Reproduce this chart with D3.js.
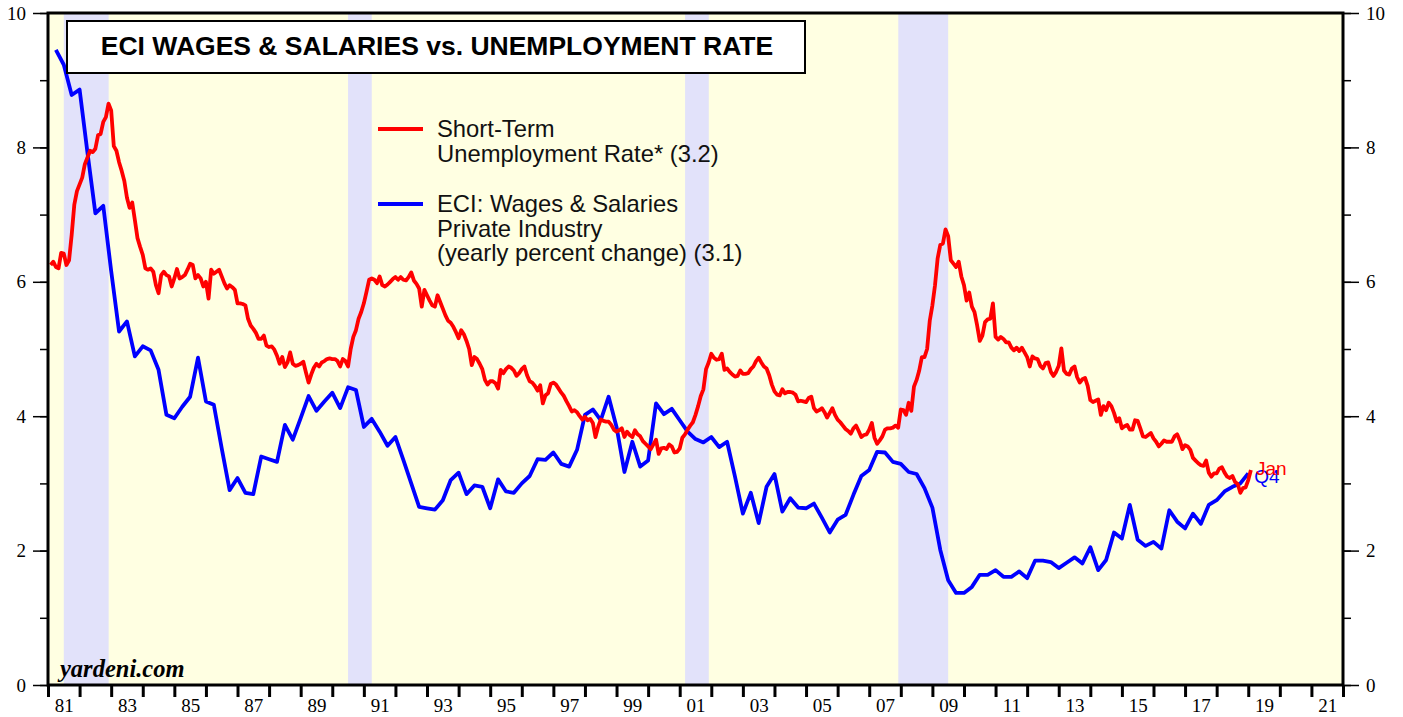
<!DOCTYPE html>
<html>
<head>
<meta charset="utf-8">
<script src="https://cdn.jsdelivr.net/npm/d3@7"></script>
<style>
  body { margin: 0; background: #fff; }
  svg { display: block; }
</style>
</head>
<body>
<div id="chart"></div>
<script>
// Short-term unemployment rate, monthly, Jan 1981 .. Jan 2019 (one row per year)
const shortTermUnemp = [
  6.25,6.30,6.22,6.20,6.43,6.42,6.25,6.32,6.70,7.15,7.35,7.45, // 81
  7.55,7.75,7.85,7.95,7.93,7.98,8.18,8.20,8.38,8.45,8.65,8.55, // 82
  8.02,7.95,7.78,7.65,7.50,7.25,7.10,7.18,6.92,6.65,6.52,6.40, // 83
  6.20,6.18,6.20,6.15,5.95,5.83,6.10,6.15,6.10,6.08,5.93,6.05, // 84
  6.19,6.05,6.07,6.10,6.18,6.27,6.25,6.05,6.10,6.05,5.93,6.00, // 85
  5.75,6.18,6.12,6.15,6.18,6.08,5.98,5.90,5.95,5.92,5.88,5.68, // 86
  5.68,5.67,5.65,5.45,5.35,5.30,5.24,5.15,5.15,5.20,5.05,5.03, // 87
  5.04,4.99,4.90,4.78,4.88,4.73,4.80,4.95,4.78,4.75,4.76,4.78, // 88
  4.81,4.65,4.50,4.62,4.72,4.78,4.74,4.80,4.82,4.85,4.86,4.85, // 89
  4.85,4.82,4.74,4.85,4.82,4.74,5.00,5.18,5.28,5.45,5.55,5.68, // 90
  5.85,6.03,6.05,6.03,5.98,6.08,5.95,5.93,5.96,6.00,6.04,6.07, // 91
  6.03,6.07,6.03,6.02,6.07,6.14,6.02,5.97,5.90,5.63,5.88,5.80, // 92
  5.72,5.65,5.63,5.80,5.70,5.60,5.50,5.42,5.39,5.33,5.25,5.16, // 93
  5.28,5.22,5.12,5.00,4.76,4.88,4.85,4.78,4.70,4.54,4.47,4.52, // 94
  4.52,4.49,4.41,4.69,4.64,4.70,4.74,4.72,4.68,4.60,4.64,4.70, // 95
  4.74,4.61,4.52,4.50,4.45,4.38,4.46,4.19,4.31,4.34,4.48,4.50, // 96
  4.47,4.41,4.35,4.30,4.22,4.15,4.07,4.09,4.06,4.00,3.95,3.99, // 97
  3.94,3.96,3.90,3.69,3.84,3.95,3.93,3.92,3.92,3.87,3.80,3.77, // 98
  3.79,3.82,3.69,3.77,3.72,3.69,3.79,3.73,3.70,3.63,3.59,3.55, // 99
  3.51,3.58,3.65,3.44,3.52,3.53,3.51,3.58,3.55,3.46,3.47,3.52, // 00
  3.68,3.73,3.80,3.86,3.91,4.02,4.15,4.30,4.40,4.70,4.80,4.93, // 01
  4.87,4.84,4.85,4.93,4.69,4.71,4.66,4.62,4.59,4.60,4.68,4.63, // 02
  4.63,4.64,4.70,4.74,4.82,4.87,4.80,4.74,4.71,4.61,4.47,4.37, // 03
  4.32,4.31,4.40,4.34,4.36,4.36,4.35,4.32,4.22,4.23,4.22,4.21, // 04
  4.27,4.29,4.12,4.07,4.09,4.12,4.06,3.98,4.05,4.12,4.02,3.95, // 05
  3.91,3.86,3.81,3.78,3.74,3.82,3.86,3.78,3.69,3.72,3.73,3.80, // 06
  3.90,3.68,3.59,3.64,3.70,3.80,3.82,3.82,3.83,3.86,3.83,4.10, // 07
  4.09,4.02,4.20,4.08,4.44,4.54,4.68,4.88,4.88,5.00,5.42,5.65, // 08
  5.95,6.35,6.55,6.57,6.78,6.68,6.32,6.27,6.22,6.30,6.08,5.95, // 09
  5.72,5.84,5.63,5.55,5.35,5.12,5.20,5.40,5.44,5.45,5.68,5.18, // 10
  5.14,5.18,5.15,5.10,5.10,5.02,4.98,5.02,4.97,5.02,4.95,4.88, // 11
  4.74,4.89,4.86,4.85,4.75,4.71,4.79,4.80,4.66,4.60,4.66,4.75, // 12
  5.01,4.68,4.63,4.62,4.71,4.74,4.58,4.50,4.55,4.57,4.45,4.24, // 13
  4.21,4.23,4.25,4.02,4.15,4.09,4.20,4.15,4.05,3.92,3.97,3.82, // 14
  3.85,3.87,3.80,3.80,3.94,3.93,3.82,3.70,3.69,3.72,3.75,3.67, // 15
  3.62,3.55,3.59,3.64,3.62,3.62,3.62,3.70,3.73,3.64,3.51,3.57, // 16
  3.55,3.50,3.38,3.34,3.30,3.27,3.26,3.34,3.16,3.10,3.15,3.15, // 17
  3.22,3.24,3.16,3.10,3.08,3.11,3.02,2.99,2.86,2.93,2.94,3.05, // 18
  3.20                                                         // 19 Jan
];

// ECI wages & salaries, private industry, yoy %, quarterly 1981Q1 .. 2018Q4
const eciWages = [
  9.45,9.23,8.78,8.86, 7.92,7.02,7.13,6.16, 5.26,5.41,4.89,5.04, 4.98,4.69,4.02,3.97, // 81-84
  4.14,4.29,4.87,4.22, 4.17,3.52,2.90,3.08, 2.86,2.84,3.40,3.36, 3.32,3.87,3.65,3.97, // 85-88
  4.30,4.08,4.22,4.35, 4.12,4.43,4.39,3.84, 3.96,3.77,3.56,3.69, 3.35,3.00,2.65,2.63, // 89-92
  2.61,2.75,3.05,3.16, 2.84,2.97,2.95,2.63, 3.06,2.88,2.86,3.00, 3.11,3.36,3.35,3.46, // 93-96
  3.29,3.25,3.50,4.02, 4.10,3.94,4.29,3.84, 3.17,3.62,3.25,3.34, 4.19,4.03,4.11,3.94, // 97-00
  3.77,3.66,3.61,3.69, 3.54,3.62,3.10,2.55, 2.86,2.41,2.95,3.14, 2.58,2.78,2.64,2.63, // 01-04
  2.70,2.49,2.27,2.46, 2.53,2.83,3.11,3.20, 3.47,3.46,3.32,3.29, 3.17,3.14,2.93,2.64, // 05-08
  2.01,1.56,1.37,1.37, 1.46,1.64,1.64,1.71, 1.61,1.61,1.69,1.59, 1.85,1.85,1.83,1.74, // 09-12
  1.82,1.90,1.81,2.05, 1.71,1.86,2.27,2.18, 2.68,2.16,2.07,2.13, 2.03,2.60,2.43,2.33, // 13-16
  2.55,2.40,2.68,2.75, 2.88,2.95,3.00,3.15                                              // 17-18
];

// recessions, decimal years
const recessions = [[1981.5, 1982.92], [1990.5, 1991.25], [2001.17, 2001.92], [2007.92, 2009.5]];

const yearTicks = d3.range(1981, 2023);
const yearLabels = d3.range(1981, 2022, 2);
const yMajor = [0, 2, 4, 6, 8, 10];
const yMinor = d3.range(0, 11);

const legendItems = [
  { color: "#ff0000", lines: ["Short-Term", "Unemployment Rate* (3.2)"] },
  { color: "#0000ff", lines: ["ECI: Wages & Salaries", "Private Industry", "(yearly percent change) (3.1)"] }
];

const width = 1403, height = 717;
const plotL = 48, plotR = 1343, plotT = 13, plotB = 685;

const svg = d3.select("#chart").append("svg")
  .attr("width", width)
  .attr("height", height);

const x = d3.scaleLinear().domain([1981, 2022]).range([plotL, plotR]);
const y = d3.scaleLinear().domain([0, 10]).range([plotB, plotT]);

// background + recession bars
svg.append("rect")
  .attr("x", plotL).attr("y", plotT)
  .attr("width", plotR - plotL).attr("height", plotB - plotT)
  .attr("fill", "#ffffe2");

svg.append("g").selectAll("rect")
  .data(recessions)
  .join("rect")
  .attr("x", d => x(d[0]))
  .attr("y", plotT)
  .attr("width", d => x(d[1]) - x(d[0]))
  .attr("height", plotB - plotT)
  .attr("fill", "#e2e2fa");

svg.append("clipPath").attr("id", "plotclip")
  .append("rect")
  .attr("x", plotL).attr("y", plotT)
  .attr("width", plotR - plotL).attr("height", plotB - plotT);

// series
const redPts = shortTermUnemp.map((v, i) => [1981 + (i + 1) / 12, v]);
const bluePts = eciWages.map((v, i) => [1981 + (i + 1) / 4, v]);

const line = d3.line().x(d => x(d[0])).y(d => y(d[1]));

const lines = svg.append("g").attr("clip-path", "url(#plotclip)");

lines.append("path")
  .datum(bluePts)
  .attr("fill", "none")
  .attr("stroke", "#0000ff")
  .attr("stroke-width", 3.8)
  .attr("stroke-linejoin", "round")
  .attr("d", line);

lines.append("path")
  .datum(redPts)
  .attr("fill", "none")
  .attr("stroke", "#ff0000")
  .attr("stroke-width", 3.8)
  .attr("stroke-linejoin", "round")
  .attr("d", line);

// end labels
const lastRed = redPts[redPts.length - 1], lastBlue = bluePts[bluePts.length - 1];
svg.append("text")
  .attr("x", x(lastBlue[0]) + 6)
  .attr("y", y(lastBlue[1]) + 10)
  .attr("font-family", "Liberation Sans, Arial, sans-serif")
  .attr("font-size", 19)
  .attr("fill", "#0000ff")
  .text("Q4");
svg.append("text")
  .attr("x", x(lastRed[0]) + 5)
  .attr("y", y(lastRed[1]) + 5)
  .attr("font-family", "Liberation Sans, Arial, sans-serif")
  .attr("font-size", 19)
  .attr("fill", "#ff0000")
  .text("Jan");

// axes
const serif = "Liberation Serif, Times New Roman, serif";

function styleAxis(g) {
  g.select(".domain").remove();
  g.selectAll(".tick line").attr("stroke", "#000").attr("stroke-width", 1.5);
  g.selectAll("text").attr("font-family", serif).attr("font-size", 19).attr("fill", "#000");
}

svg.append("g").attr("transform", `translate(${plotL},0)`)
  .call(d3.axisLeft(y).tickValues(yMinor).tickSize(8).tickFormat(""))
  .call(styleAxis);
svg.append("g").attr("transform", `translate(${plotL},0)`)
  .call(d3.axisLeft(y).tickValues(yMajor).tickSize(15).tickPadding(7).tickFormat(d3.format("d")))
  .call(styleAxis);

svg.append("g").attr("transform", `translate(${plotR},0)`)
  .call(d3.axisRight(y).tickValues(yMinor).tickSize(8).tickFormat(""))
  .call(styleAxis);
svg.append("g").attr("transform", `translate(${plotR},0)`)
  .call(d3.axisRight(y).tickValues(yMajor).tickSize(16).tickPadding(7).tickFormat(d3.format("d")))
  .call(styleAxis);

svg.append("g").attr("transform", `translate(0,${plotB})`)
  .call(d3.axisBottom(x).tickValues(yearTicks).tickSize(12).tickFormat(""))
  .call(styleAxis)
  .call(g => g.selectAll(".tick line").attr("stroke-width", 3));

svg.append("g").attr("transform", `translate(0,${plotB})`)
  .call(d3.axisBottom(x).tickValues(yearLabels.map(d => d + 0.5)).tickSize(0).tickPadding(14)
    .tickFormat(d => String(Math.floor(d) % 100).padStart(2, "0")))
  .call(styleAxis);

// frame
svg.append("rect")
  .attr("x", plotL).attr("y", plotT)
  .attr("width", plotR - plotL).attr("height", plotB - plotT)
  .attr("fill", "none")
  .attr("stroke", "#000")
  .attr("stroke-width", 3);

// title box
svg.append("rect")
  .attr("x", 67).attr("y", 21)
  .attr("width", 738).attr("height", 52)
  .attr("fill", "#fff")
  .attr("stroke", "#000")
  .attr("stroke-width", 2);
svg.append("text")
  .attr("x", 437).attr("y", 55)
  .attr("text-anchor", "middle")
  .attr("font-family", "Liberation Sans, Arial, sans-serif")
  .attr("font-weight", "bold")
  .attr("font-size", 26.5)
  .text("ECI WAGES & SALARIES vs. UNEMPLOYMENT RATE");

// legend
const legend = svg.append("g").attr("font-family", "Liberation Sans, Arial, sans-serif")
  .attr("font-size", 23.8).attr("fill", "#111");
const legendTop = [137, 212];
legendItems.forEach((item, i) => {
  const g = legend.append("g").attr("transform", `translate(0,${legendTop[i]})`);
  g.append("line")
    .attr("x1", 378).attr("x2", 423)
    .attr("y1", -8).attr("y2", -8)
    .attr("stroke", item.color).attr("stroke-width", 3.8);
  g.append("text")
    .selectAll("tspan")
    .data(item.lines)
    .join("tspan")
    .attr("x", 437)
    .attr("y", (d, j) => j * 24.5)
    .text(d => d);
});

// watermark
svg.append("text")
  .attr("x", 60).attr("y", 677)
  .attr("font-family", serif)
  .attr("font-style", "italic")
  .attr("font-weight", "bold")
  .attr("font-size", 24.5)
  .text("yardeni.com");
</script>
</body>
</html>
